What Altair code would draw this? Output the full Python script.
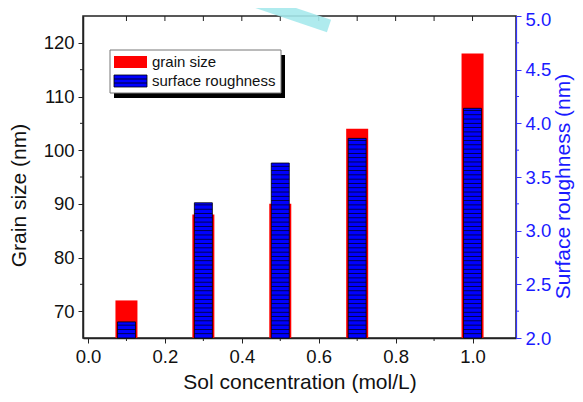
import altair as alt
import pandas as pd
import numpy as np

# ---- data ----
conc = [0.1, 0.3, 0.5, 0.7, 1.0]
grain_size = [72, 88, 90, 104, 118]
roughness = [2.15, 3.26, 3.63, 3.86, 4.14]

x_major = [0.0, 0.2, 0.4, 0.6, 0.8, 1.0]
x_minor = [0.1, 0.3, 0.5, 0.7, 0.9]
top_ticks = [0.1, 0.2, 0.3, 0.4, 0.5, 0.6, 0.7, 0.8, 0.9, 1.0]
left_major = [70, 80, 90, 100, 110, 120]
left_minor = [75, 85, 95, 105, 115]
right_major = [2.0, 2.5, 3.0, 3.5, 4.0, 4.5, 5.0]
right_minor = [2.25, 2.75, 3.25, 3.75, 4.25, 4.75]

W, H = 433, 322
FONT = "Liberation Sans"
INK = "#222222"
BLUE_TXT = "#1a1aff"

df = pd.DataFrame({"conc": conc, "grain": grain_size, "rough": roughness})

# hatch texture levels inside the blue bars (pattern only)
hatch_rows = []
for c, r in zip(conc, roughness):
    for lv in np.arange(2.04, r - 0.015, 0.04):
        hatch_rows.append({"conc": c, "rough": float(lv)})
hatch_df = pd.DataFrame(hatch_rows)

xscale = alt.Scale(domain=[0, 1.1], nice=False, zero=False)
lscale = alt.Scale(domain=[65, 125], nice=False, zero=False)
rscale = alt.Scale(domain=[2, 5], nice=False, zero=False)

x_axis = alt.Axis(values=x_major, format=".1f", title="Sol concentration (mol/L)",
                  tickSize=5, tickColor=INK, domainColor=INK, domainWidth=1.5,
                  labelPadding=4, titlePadding=6, grid=False)
left_axis = alt.Axis(values=left_major, title="Grain size (nm)", tickSize=5,
                     tickColor=INK, domainColor=INK, domainWidth=1.5,
                     labelPadding=4, titlePadding=14, titleY=179, grid=False)
right_axis = alt.Axis(values=right_major, format=".1f", orient="right",
                      title="Surface roughness (nm)", tickSize=5,
                      tickColor="#3333ff", domainColor="#3333ff", domainWidth=1.2,
                      labelColor=BLUE_TXT, titleColor=BLUE_TXT,
                      labelPadding=4, titlePadding=2, titleAngle=270,
                      labelOffset={"condition": {"test": "datum.value >= 4.99", "value": 3}, "value": 0},
                      titleBaseline="top", titleY=170, grid=False)

red = alt.Chart(df).mark_bar(size=22, color="#ff0000").encode(
    x=alt.X("conc:Q", scale=xscale, axis=x_axis),
    y=alt.Y("grain:Q", scale=lscale, axis=left_axis),
    y2=alt.datum(65),
)

left_minor_ticks = alt.Chart(pd.DataFrame({"grain": left_minor})).mark_rule(
    color=INK, strokeWidth=1).encode(
    y=alt.Y("grain:Q", scale=lscale),
    x=alt.value(-3), x2=alt.value(0),
)

top_tick_marks = alt.Chart(pd.DataFrame({"conc": top_ticks})).mark_rule(
    color=INK, strokeWidth=1).encode(
    x=alt.X("conc:Q", scale=xscale),
    y=alt.value(0), y2=alt.value(5),
)

bottom_minor_ticks = alt.Chart(pd.DataFrame({"conc": x_minor})).mark_rule(
    color=INK, strokeWidth=1).encode(
    x=alt.X("conc:Q", scale=xscale),
    y=alt.value(H), y2=alt.value(H + 3),
)

left_group = alt.layer(red, left_minor_ticks, top_tick_marks, bottom_minor_ticks)

blue = alt.Chart(df).mark_bar(size=18, color="#0000ff", stroke="#000000",
                              strokeWidth=0.8).encode(
    x=alt.X("conc:Q", scale=xscale),
    y=alt.Y("rough:Q", scale=rscale, axis=right_axis),
    y2=alt.datum(2),
)

hatch = alt.Chart(hatch_df).mark_tick(
    orient="horizontal", size=18, thickness=0.8,
    color="#000000", opacity=0.85).encode(
    x=alt.X("conc:Q", scale=xscale),
    y=alt.Y("rough:Q", scale=rscale),
)

right_minor_ticks = alt.Chart(pd.DataFrame({"rough": right_minor})).mark_rule(
    color="#3333ff", strokeWidth=1).encode(
    y=alt.Y("rough:Q", scale=rscale),
    x=alt.value(W), x2=alt.value(W + 3),
)

right_group = alt.layer(blue, hatch, right_minor_ticks)

# ---- hand-made legend box (with shadow) ----
one = pd.DataFrame({"a": [0]})
shadow = alt.Chart(one).mark_rect(color="#000000").encode(
    x=alt.value(31), x2=alt.value(202), y=alt.value(39), y2=alt.value(82))
box = alt.Chart(one).mark_rect(fill="#ffffff", stroke="#777777", strokeWidth=1).encode(
    x=alt.value(27), x2=alt.value(198), y=alt.value(34), y2=alt.value(77))
sw_red = alt.Chart(one).mark_rect(color="#ff0000").encode(
    x=alt.value(31), x2=alt.value(64), y=alt.value(40), y2=alt.value(52))
sw_blue = alt.Chart(one).mark_rect(fill="#0000ff", stroke="#000000", strokeWidth=0.8).encode(
    x=alt.value(31), x2=alt.value(64), y=alt.value(59), y2=alt.value(71))
sw_line1 = alt.Chart(one).mark_rule(color="#000000", strokeWidth=0.8).encode(
    x=alt.value(31), x2=alt.value(64), y=alt.value(63))
sw_line2 = alt.Chart(one).mark_rule(color="#000000", strokeWidth=0.8).encode(
    x=alt.value(31), x2=alt.value(64), y=alt.value(67))
txt1 = alt.Chart(one).mark_text(align="left", baseline="middle", font=FONT,
                                fontSize=15, color="#111111").encode(
    x=alt.value(69), y=alt.value(46), text=alt.value("grain size"))
txt2 = alt.Chart(one).mark_text(align="left", baseline="middle", font=FONT,
                                fontSize=15, color="#111111").encode(
    x=alt.value(69), y=alt.value(65), text=alt.value("surface roughness"))

# cyan watermark stroke at the top
water = alt.Chart(one).mark_rule(color="#a6e9ec", strokeWidth=13, opacity=0.9).encode(
    x=alt.value(163), x2=alt.value(246), y=alt.value(-18), y2=alt.value(10))

chart = alt.layer(
    left_group, right_group, water, shadow, box, sw_red, sw_blue, sw_line1, sw_line2, txt1, txt2
).resolve_scale(y="independent").properties(
    width=W, height=H,
    autosize=alt.AutoSizeParams(type="none"),
    padding={"left": 75, "top": 8, "right": 59, "bottom": 56},
).configure_view(
    stroke=INK, strokeWidth=1.5
).configure_axis(
    labelFont=FONT, labelFontSize=18.5, labelColor="#111111",
    titleFont=FONT, titleFontSize=21, titleFontWeight="normal", titleColor="#111111",
)

chart.save("out.html", embed_options={"renderer": "svg", "actions": False})
